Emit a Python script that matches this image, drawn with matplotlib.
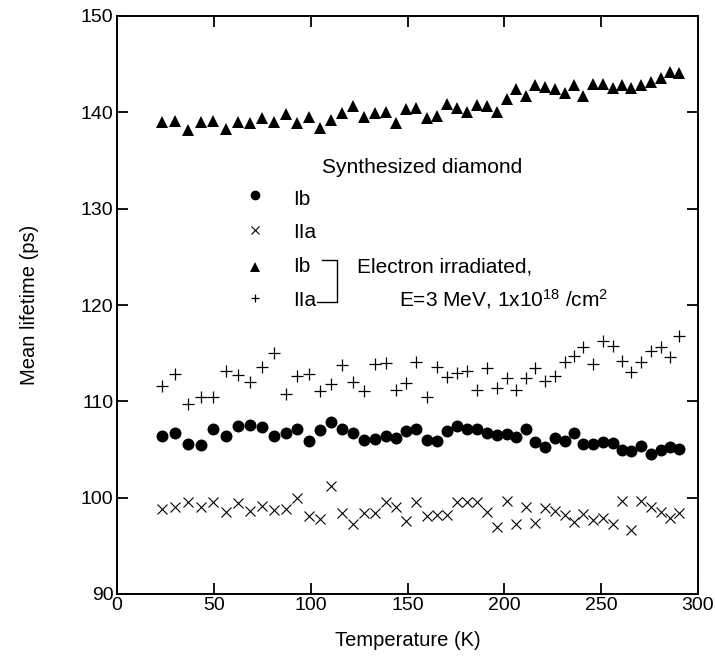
import numpy as np
import matplotlib
matplotlib.use('Agg')
import matplotlib.pyplot as plt

plt.rcParams['font.family'] = ['Liberation Sans', 'DejaVu Sans']
plt.rcParams['mathtext.fontset'] = 'custom'
plt.rcParams['mathtext.rm'] = 'Liberation Sans'
plt.rcParams['mathtext.it'] = 'Liberation Sans'

# temperature (K) of each measurement
temp = [23.4, 30.0, 36.8, 43.2, 49.8, 56.1, 62.6, 68.7, 75.0, 81.0,
        87.1, 93.1, 99.0, 104.8, 110.5, 116.2, 121.7, 127.5, 133.2, 138.7,
        143.9, 149.2, 154.4, 159.9, 165.4, 170.6, 175.7, 180.9, 186.0, 191.2,
        196.4, 201.2, 206.0, 211.2, 216.0, 221.2, 226.0, 231.2, 236.0, 240.8,
        245.9, 250.8, 256.0, 260.8, 265.6, 270.7, 275.6, 280.7, 285.5, 290.3]

# mean lifetime (ps)
ib = [106.4, 106.7, 105.6, 105.5, 107.1, 106.4, 107.4, 107.5, 107.3, 106.4,
      106.7, 107.1, 105.9, 107.0, 107.9, 107.1, 106.7, 106.0, 106.1, 106.4,
      106.2, 106.9, 107.1, 106.0, 105.9, 106.9, 107.4, 107.1, 107.1, 106.7,
      106.5, 106.6, 106.3, 107.1, 105.8, 105.3, 106.2, 105.9, 106.7, 105.6,
      105.6, 105.8, 105.7, 104.9, 104.8, 105.4, 104.5, 104.9, 105.3, 105.1]
iia = [98.8, 99.0, 99.6, 99.0, 99.6, 98.5, 99.4, 98.6, 99.1, 98.7,
       98.8, 100.0, 98.1, 97.8, 101.2, 98.4, 97.3, 98.4, 98.4, 99.5,
       99.0, 97.6, 99.6, 98.1, 98.2, 98.2, 99.6, 99.6, 99.6, 98.5,
       97.0, 99.7, 97.3, 99.0, 97.4, 98.9, 98.6, 98.2, 97.5, 98.3,
       97.7, 97.9, 97.3, 99.7, 96.6, 99.7, 99.0, 98.5, 97.9, 98.4]
ib_irr = [139.0, 139.1, 138.2, 139.0, 139.1, 138.3, 139.0, 138.9, 139.4, 139.0,
          139.8, 138.9, 139.5, 138.4, 139.2, 139.9, 140.7, 139.5, 139.9, 140.0,
          138.9, 140.3, 140.4, 139.4, 139.6, 140.9, 140.5, 140.0, 140.8, 140.7,
          140.0, 141.4, 142.4, 141.7, 142.8, 142.6, 142.4, 142.0, 142.8, 141.7,
          142.9, 142.9, 142.5, 142.8, 142.5, 142.8, 143.2, 143.6, 144.2, 144.1]
iia_irr = [111.6, 112.8, 109.7, 110.5, 110.4, 113.2, 112.7, 112.0, 113.6, 115.0,
           110.8, 112.6, 112.8, 111.1, 111.8, 113.8, 112.0, 111.1, 113.9, 114.0,
           111.2, 111.9, 114.1, 110.5, 113.6, 112.5, 112.9, 113.2, 111.2, 113.5,
           111.4, 112.4, 111.2, 112.4, 113.5, 112.1, 112.6, 114.1, 114.7, 115.6,
           113.9, 116.3, 115.7, 114.2, 113.0, 114.1, 115.2, 115.6, 114.6, 116.8]

fs = 15
fig = plt.figure(figsize=(7.15, 6.71), dpi=100)
ax = fig.add_axes([117 / 715, 1 - 594 / 671, 581 / 715, 578 / 671])

ax.plot(temp, ib, 'o', color='black', ms=8.6, mew=0)
ax.plot(temp, iia, 'x', color='black', ms=7.5, mew=0.8)
ax.plot(temp, ib_irr, '^', color='black', ms=8.5, mew=0)
ax.plot(temp, iia_irr, '+', color='black', ms=8, mew=0.9)

ax.set_xlim(0, 300)
ax.set_ylim(90, 150)
ax.set_xticks(np.arange(0, 301, 50))
ax.set_yticks(np.arange(90, 151, 10))
ax.tick_params(direction='in', length=8, width=1.3, top=True, right=True,
               labelsize=14, pad=2.5)
for s in ax.spines.values():
    s.set_linewidth(1.4)

fig.text((117 + 698) / 2 / 715, 1 - 640 / 671, 'Temperature (K)',
         ha='center', va='center', fontsize=14.5)
fig.text(30 / 715, 1 - 305 / 671, 'Mean lifetime (ps)', rotation=90,
         ha='center', va='center', fontsize=14.5)

# hand-made legend
tr = ax.transAxes
ax.text(0.352, 0.729, 'Synthesized diamond', transform=tr, fontsize=fs)
mk_x = 0.2375
lab_x = 0.3024
ax.plot([mk_x], [0.6903], 'o', color='black', ms=7, mew=0, transform=tr)
ax.plot([mk_x], [0.6298], 'x', color='black', ms=5.5, mew=0.8, transform=tr)
ax.plot([mk_x], [0.5657], '^', color='black', ms=6.5, mew=0, transform=tr)
ax.plot([mk_x], [0.5121], '+', color='black', ms=6, mew=0.9, transform=tr)
ax.text(lab_x, 0.673, 'Ib', transform=tr, fontsize=fs)
ax.text(lab_x, 0.6154, 'IIa', transform=tr, fontsize=fs)
ax.text(lab_x, 0.5566, 'Ib', transform=tr, fontsize=fs)
ax.text(lab_x, 0.4983, 'IIa', transform=tr, fontsize=fs)
ax.plot([0.3523, 0.3787, 0.3787, 0.344], [0.5779, 0.5779, 0.5057, 0.5057],
        color='black', lw=1, transform=tr)
ax.text(0.4126, 0.5566, 'Electron irradiated,', transform=tr, fontsize=fs)
ax.text(0.4855, 0.4983, r'E=3 MeV, 1x10$^{18}$ /cm$^{2}$', transform=tr,
        fontsize=fs)

fig.savefig('out.png', dpi=100)
